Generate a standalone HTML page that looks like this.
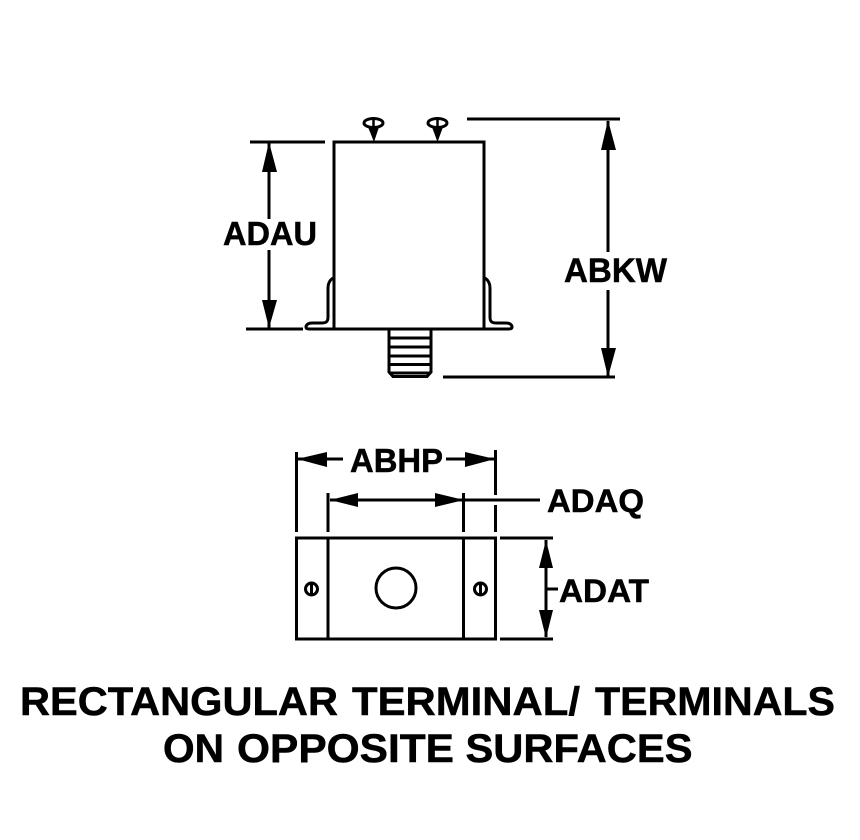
<!DOCTYPE html>
<html><head><meta charset="utf-8"><style>html,body{margin:0;padding:0;background:#fff}svg{display:block}text{font-family:"Liberation Sans",Arial,sans-serif;font-weight:bold;fill:#000;stroke:#000;stroke-width:.5}</style></head>
<body>
<svg width="860" height="840" viewBox="0 0 860 840" xmlns="http://www.w3.org/2000/svg" shape-rendering="crispEdges">
<rect width="860" height="840" fill="#fff"/>
<g stroke="#000" stroke-width="3" fill="none">
<path d="M334 329V142H484V329"/>
<path d="M250 142H325M467 119H620M246 329H303M443 377H615"/>
<rect x="296.500" y="538" width="199" height="101"/>
<path d="M328 538V639M463.500 538V639"/>
<path d="M296.500 452V532M495.500 450V495M495.500 505V532M328 493V532M463.500 493V532"/>
<path d="M500 538H553M500 639H553"/>
<path d="M298 459H343M446 459H494M330 500H540"/>
<path d="M546 540V637M546 589H558"/>
<path d="M269 143V219M269 250V328M608 121V252M608 290V377"/>
</g>
<g shape-rendering="auto">
<g stroke="#000" stroke-width="3" fill="none">
<path d="M333 278C330 280 328 283 328 288V317C328 322 326 323 321 323H312C308 323 306 325 306 327C306 329 308 329 310 329H508C510 329 512 329 512 327C512 325 510 323 506 323H497C492 323 490 322 490 317V288C490 283 488 280 485 278"/>
<path d="M389 329V372L393 376.500H427L431 372V329"/>
<path d="M389 338H431M389 347H431M389 356H431M389 364.500H431M389 373H431"/>
<circle cx="396" cy="588" r="20"/>
<circle cx="311.500" cy="589" r="6"/>
<circle cx="480.500" cy="589" r="6"/>
<path d="M311.500 583V595M480.500 583V595"/>
<ellipse cx="373.500" cy="123" rx="9.500" ry="4.500"/>
<ellipse cx="437.500" cy="123" rx="9.500" ry="4.500"/>
<path d="M373.500 118V128M437.500 118V128" stroke-width="2.500"/>
</g>
<g fill="#000">
<path d="M368 127H379L374 142ZM432 127H443L437.500 142Z"/>
<path d="M269 142L262 172H277ZM269 328L262 300H277Z"/>
<path d="M608 120L601 150H616ZM608 377L601 348H616Z"/>
<path d="M297 459L327 452V467ZM495 459L465 452V467Z"/>
<path d="M330 500L358 493V507ZM464 500L435 493V507Z"/>
<path d="M546 540L539 568H553ZM546 638L539 610H553Z"/>
</g>
<text x="223" y="245" font-size="33" textLength="94" lengthAdjust="spacingAndGlyphs">ADAU</text>
<text x="564" y="282" font-size="34" textLength="103" lengthAdjust="spacingAndGlyphs">ABKW</text>
<text x="350" y="472" font-size="33" textLength="93" lengthAdjust="spacingAndGlyphs">ABHP</text>
<text x="547" y="512" font-size="32" textLength="97" lengthAdjust="spacingAndGlyphs">ADAQ</text>
<text x="559" y="602" font-size="32" textLength="90" lengthAdjust="spacingAndGlyphs">ADAT</text>
<text x="20" y="715" font-size="40" textLength="318" lengthAdjust="spacingAndGlyphs">RECTANGULAR</text>
<text x="352" y="715" font-size="40" textLength="228" lengthAdjust="spacingAndGlyphs">TERMINAL/</text>
<text x="595" y="715" font-size="40" textLength="240" lengthAdjust="spacingAndGlyphs">TERMINALS</text>
<text x="163" y="762" font-size="40" textLength="61" lengthAdjust="spacingAndGlyphs">ON</text>
<text x="237" y="762" font-size="40" textLength="217" lengthAdjust="spacingAndGlyphs">OPPOSITE</text>
<text x="465.500" y="762" font-size="40" textLength="227" lengthAdjust="spacingAndGlyphs">SURFACES</text>
</g>
</svg>
</body></html>
